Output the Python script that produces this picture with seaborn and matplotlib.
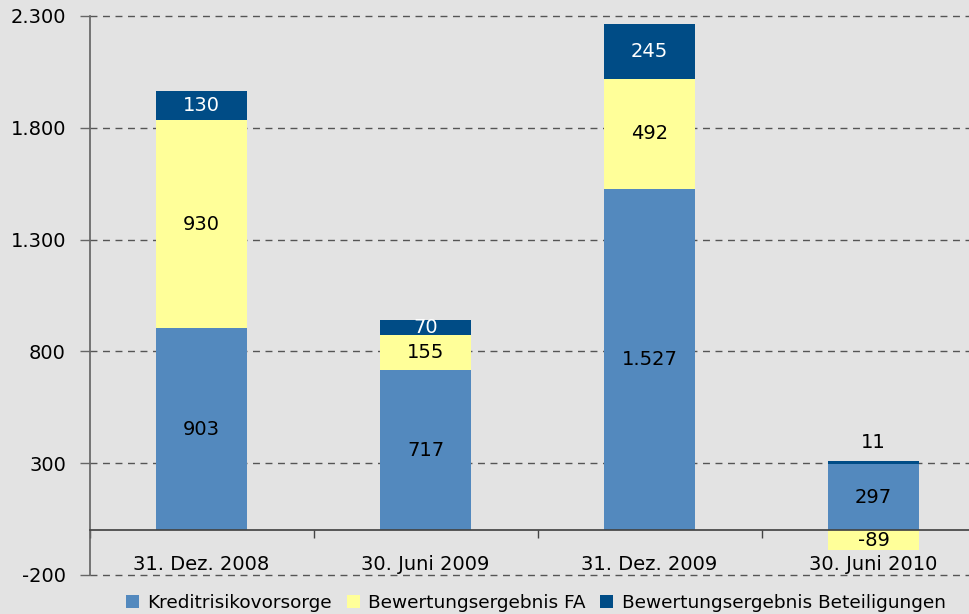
import matplotlib
matplotlib.use("Agg")
import matplotlib.pyplot as plt
import seaborn as sns
import numpy as np
import pandas as pd
from matplotlib.patches import Patch

categories = ["31. Dez. 2008", "30. Juni 2009", "31. Dez. 2009", "30. Juni 2010"]
kredit = [903, 717, 1527, 297]
bewertung_fa = [930, 155, 492, -89]
beteiligungen = [130, 70, 245, 11]
series_names = ["Kreditrisikovorsorge", "Bewertungsergebnis FA", "Bewertungsergebnis Beteiligungen"]
y_ticks = [-200, 300, 800, 1300, 1800, 2300]

colors = ["#5389BE", "#FFFF99", "#004C86"]
bg = "#E3E3E3"

sns.set_theme(style="ticks")
plt.rcParams["font.family"] = ["DejaVu Sans"]
plt.rcParams["text.color"] = "black"
plt.rcParams["xtick.color"] = "black"
plt.rcParams["ytick.color"] = "black"

fig = plt.figure(figsize=(9.69, 6.14), dpi=100, facecolor=bg)
ax = fig.add_axes([89.5 / 969, 39 / 614, 896 / 969, 559 / 614])
ax.set_facecolor(bg)

kredit_a = np.array(kredit, dtype=float)
fa_a = np.array(bewertung_fa, dtype=float)
bet_a = np.array(beteiligungen, dtype=float)
fa_bottom = np.where(fa_a >= 0, kredit_a, 0.0)
bet_bottom = kredit_a + np.clip(fa_a, 0, None)

df = pd.DataFrame({"cat": categories, "kredit": kredit_a, "fa": fa_a, "bet": bet_a})
w = 0.405
sns.barplot(data=df, x="cat", y="kredit", color=colors[0], width=w, ax=ax,
            saturation=1, linewidth=0, zorder=3)
sns.barplot(data=df, x="cat", y="fa", color=colors[1], width=w, ax=ax,
            saturation=1, linewidth=0, bottom=fa_bottom, zorder=3)
sns.barplot(data=df, x="cat", y="bet", color=colors[2], width=w, ax=ax,
            saturation=1, linewidth=0, bottom=bet_bottom, zorder=3)

def fmt(v):
    return f"{int(v):,}".replace(",", ".")

fs = 14
for i in range(len(categories)):
    ax.text(i, kredit_a[i] / 2, fmt(kredit_a[i]), ha="center", va="center",
            fontsize=fs, color="black", zorder=5)
    ax.text(i, fa_bottom[i] + fa_a[i] / 2, fmt(fa_a[i]), ha="center", va="center",
            fontsize=fs, color="black", zorder=5)
    if bet_a[i] >= 50:
        ax.text(i, bet_bottom[i] + bet_a[i] / 2, fmt(bet_a[i]), ha="center", va="center",
                fontsize=fs, color="white", zorder=5)
    else:
        ax.text(i, bet_bottom[i] + bet_a[i] + 85, fmt(bet_a[i]), ha="center", va="center",
                fontsize=fs, color="black", zorder=5)

ax.set_ylim(-200, 2300)
ax.set_xlim(-0.5, len(categories) - 0.5)
ax.set_yticks(y_ticks)
ax.set_yticklabels([fmt(t) for t in y_ticks], fontsize=14)
ax.yaxis.grid(True, linestyle=(0, (5, 4)), color="#555555", linewidth=1.0, zorder=0)
for gl in ax.get_ygridlines():
    gl.set_clip_on(False)
ax.set_axisbelow(True)
ax.tick_params(axis="y", left=True, length=7, width=1, color="#666666", direction="out", pad=10)

for s in ["top", "right"]:
    ax.spines[s].set_visible(False)
ax.spines["left"].set_color("#666666")
ax.spines["bottom"].set_position(("data", 0))
ax.spines["bottom"].set_color("#444444")
ax.spines["bottom"].set_zorder(4)

ax.set_xticks(np.arange(-0.5, len(categories)), minor=False)
ax.set_xticklabels([""] * (len(categories) + 1))
ax.set_xticks(np.arange(len(categories)), minor=True)
ax.set_xticklabels(categories, minor=True, fontsize=14)
ax.tick_params(axis="x", which="major", bottom=True, length=6, width=1, color="#444444",
               direction="out")
ax.tick_params(axis="x", which="minor", bottom=True, length=0, pad=18)
ax.set_xlabel("")
ax.set_ylabel("")

handles = [Patch(facecolor=c, edgecolor="none", label=n) for c, n in zip(colors, series_names)]
fig.legend(handles=handles, loc="lower center", bbox_to_anchor=(0.553, -0.024), ncol=3,
           frameon=False, fontsize=13.3, handlelength=0.7, handleheight=0.7,
           handletextpad=0.45, columnspacing=0.8)

fig.savefig("out.png", dpi=100, facecolor=bg)
